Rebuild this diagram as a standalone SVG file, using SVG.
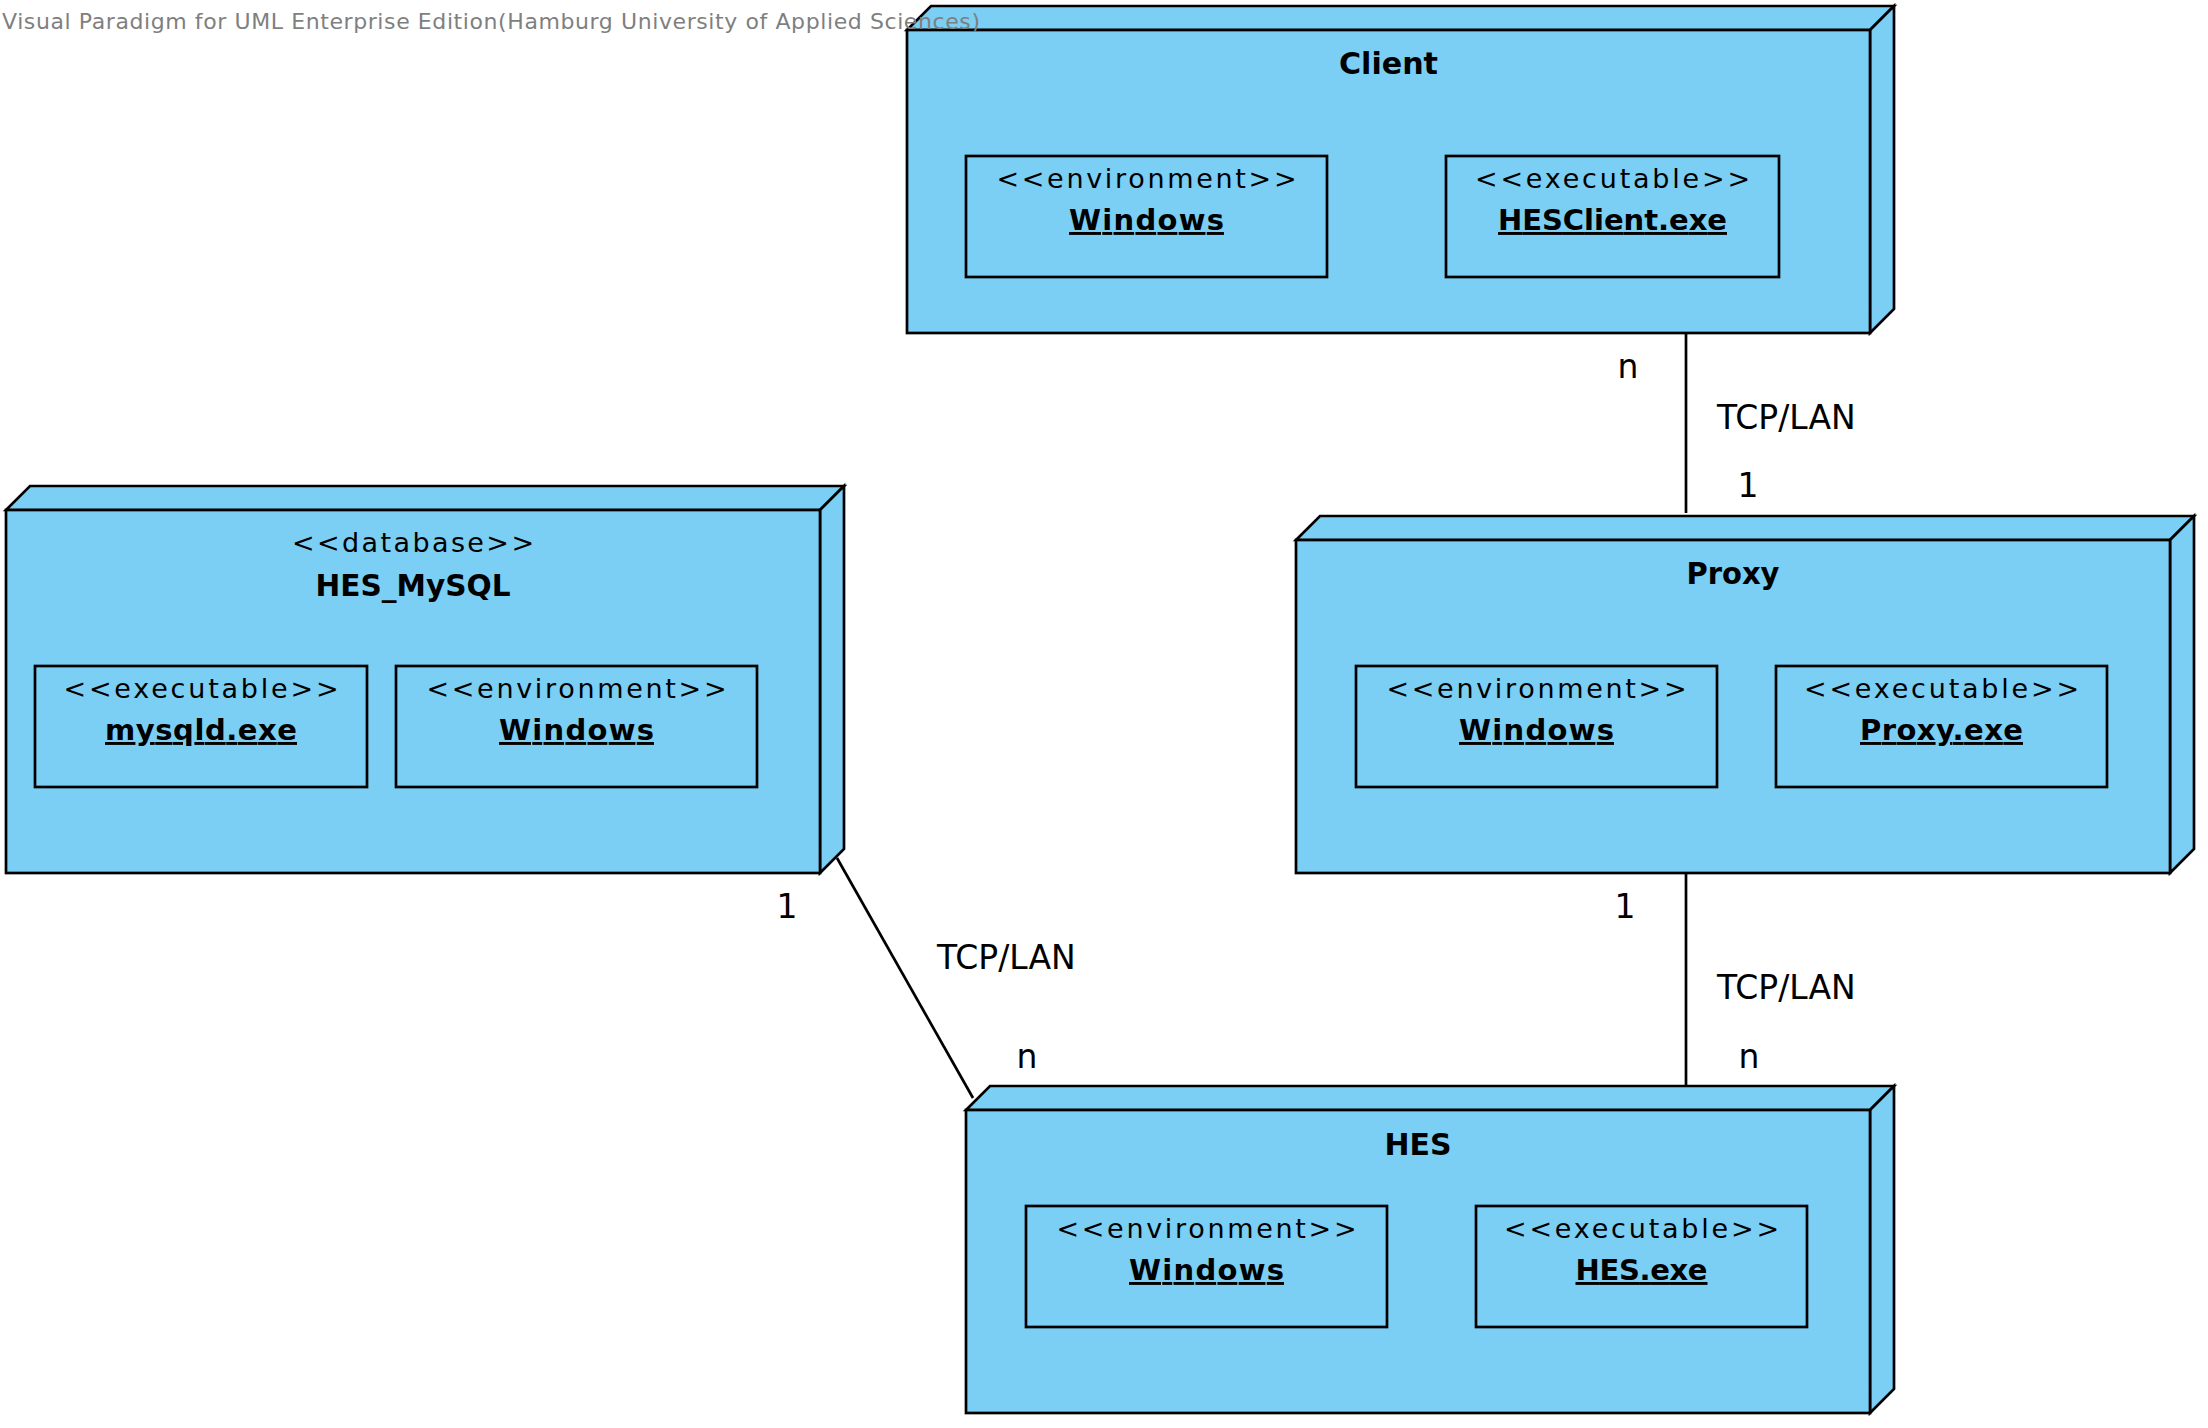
<svg xmlns="http://www.w3.org/2000/svg" width="2208" height="1428" viewBox="0 0 2208 1428">
<style>
  .node { fill: #7BCEF4; stroke: #000; stroke-width: 2.7; stroke-linejoin: miter; }
  .inner { fill: #7BCEF4; stroke: #000; stroke-width: 2.7; }
  .conn { stroke: #000; stroke-width: 2.7; fill: none; }
  .title { font-family: "DejaVu Sans", sans-serif; font-weight: bold; font-size: 30px; text-anchor: middle; fill: #000; }
  .stereo { font-family: "DejaVu Sans", sans-serif; font-size: 27px; text-anchor: middle; fill: #000; }
  .name { font-family: "DejaVu Sans", sans-serif; font-weight: bold; font-size: 29px; text-anchor: middle; text-decoration: underline; fill: #000; }
  .lbl { font-family: "DejaVu Sans", sans-serif; font-size: 33px; fill: #000; }
  .wm { font-family: "DejaVu Sans", sans-serif; font-size: 22px; fill: #7f7f7f; }
</style>
<rect x="0" y="0" width="2208" height="1428" fill="#fff"/>

<g id="connectors">
  <line class="conn" x1="1686" y1="333" x2="1686" y2="513"/>
  <line class="conn" x1="1686" y1="873" x2="1686" y2="1087"/>
  <line class="conn" x1="837" y1="858" x2="973" y2="1098"/>
  <text class="lbl" x="1628" y="378" text-anchor="middle">n</text>
  <text class="lbl" x="1717" y="429">TCP/LAN</text>
  <text class="lbl" x="1748" y="497" text-anchor="middle">1</text>
  <text class="lbl" x="1625" y="918" text-anchor="middle">1</text>
  <text class="lbl" x="1717" y="999">TCP/LAN</text>
  <text class="lbl" x="1749" y="1068" text-anchor="middle">n</text>
  <text class="lbl" x="787" y="918" text-anchor="middle">1</text>
  <text class="lbl" x="937" y="969">TCP/LAN</text>
  <text class="lbl" x="1027" y="1068" text-anchor="middle">n</text>
</g>

<g id="client">
  <path class="node" d="M907,30 L931,6 L1894,6 L1870,30 Z"/>
  <path class="node" d="M1870,30 L1894,6 L1894,309 L1870,333 Z"/>
  <rect class="node" x="907" y="30" width="963" height="303"/>
  <text class="title" x="1388.5" y="74" textLength="99" lengthAdjust="spacingAndGlyphs">Client</text>
  <g id="client-windows">
    <rect class="inner" x="966" y="156" width="361" height="121"/>
    <text class="stereo" x="1146.5" y="188" textLength="300">&lt;&lt;environment&gt;&gt;</text>
    <text class="name" x="1146.5" y="230" textLength="155">Windows</text>
  </g>
  <g id="client-hesclient">
    <rect class="inner" x="1446" y="156" width="333" height="121"/>
    <text class="stereo" x="1612.5" y="188" textLength="275">&lt;&lt;executable&gt;&gt;</text>
    <text class="name" x="1612.5" y="230" textLength="229">HESClient.exe</text>
  </g>
</g>

<g id="proxy">
  <path class="node" d="M1296,540 L1320,516 L2194,516 L2170,540 Z"/>
  <path class="node" d="M2170,540 L2194,516 L2194,849 L2170,873 Z"/>
  <rect class="node" x="1296" y="540" width="874" height="333"/>
  <text class="title" x="1733" y="584" textLength="93" lengthAdjust="spacingAndGlyphs">Proxy</text>
  <g id="proxy-windows">
    <rect class="inner" x="1356" y="666" width="361" height="121"/>
    <text class="stereo" x="1536.5" y="698" textLength="300">&lt;&lt;environment&gt;&gt;</text>
    <text class="name" x="1536.5" y="740" textLength="155">Windows</text>
  </g>
  <g id="proxy-exe">
    <rect class="inner" x="1776" y="666" width="331" height="121"/>
    <text class="stereo" x="1941.5" y="698" textLength="275">&lt;&lt;executable&gt;&gt;</text>
    <text class="name" x="1941.5" y="740" textLength="163">Proxy.exe</text>
  </g>
</g>

<g id="hes-mysql">
  <path class="node" d="M6,510 L30,486 L844,486 L820,510 Z"/>
  <path class="node" d="M820,510 L844,486 L844,849 L820,873 Z"/>
  <rect class="node" x="6" y="510" width="814" height="363"/>
  <text class="stereo" x="413" y="552" textLength="242">&lt;&lt;database&gt;&gt;</text>
  <text class="title" x="413" y="596" textLength="195" lengthAdjust="spacingAndGlyphs">HES_MySQL</text>
  <g id="mysql-exe">
    <rect class="inner" x="35" y="666" width="332" height="121"/>
    <text class="stereo" x="201" y="698" textLength="275">&lt;&lt;executable&gt;&gt;</text>
    <text class="name" x="201" y="740" textLength="192">mysqld.exe</text>
  </g>
  <g id="mysql-windows">
    <rect class="inner" x="396" y="666" width="361" height="121"/>
    <text class="stereo" x="576.5" y="698" textLength="300">&lt;&lt;environment&gt;&gt;</text>
    <text class="name" x="576.5" y="740" textLength="155">Windows</text>
  </g>
</g>

<g id="hes">
  <path class="node" d="M966,1110 L990,1086 L1894,1086 L1870,1110 Z"/>
  <path class="node" d="M1870,1110 L1894,1086 L1894,1389 L1870,1413 Z"/>
  <rect class="node" x="966" y="1110" width="904" height="303"/>
  <text class="title" x="1418" y="1155" textLength="67" lengthAdjust="spacingAndGlyphs">HES</text>
  <g id="hes-windows">
    <rect class="inner" x="1026" y="1206" width="361" height="121"/>
    <text class="stereo" x="1206.5" y="1238" textLength="300">&lt;&lt;environment&gt;&gt;</text>
    <text class="name" x="1206.5" y="1280" textLength="155">Windows</text>
  </g>
  <g id="hes-exe">
    <rect class="inner" x="1476" y="1206" width="331" height="121"/>
    <text class="stereo" x="1641.5" y="1238" textLength="275">&lt;&lt;executable&gt;&gt;</text>
    <text class="name" x="1641.5" y="1280" textLength="132">HES.exe</text>
  </g>
</g>

<text class="wm" x="2" y="29" textLength="978">Visual Paradigm for UML Enterprise Edition(Hamburg University of Applied Sciences)</text>
</svg>
